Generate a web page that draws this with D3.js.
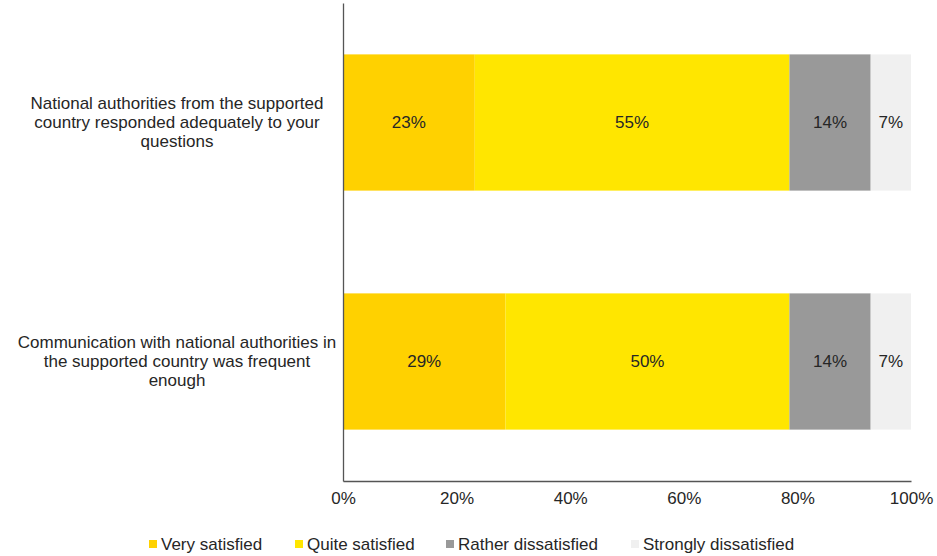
<!DOCTYPE html>
<html><head><meta charset="utf-8">
<script src="https://cdn.jsdelivr.net/npm/d3@7"></script>
<style>body{margin:0;background:#fff;}svg{display:block;font-family:"Liberation Sans",Arial,sans-serif;}</style>
</head><body><svg id="c" width="937" height="556"></svg>
<script>
const categories = [
  ["National authorities from the supported","country responded adequately to your","questions"],
  ["Communication with national authorities in","the supported country was frequent","enough"]
];
const seriesNames = ["Very satisfied","Quite satisfied","Rather dissatisfied","Strongly dissatisfied"];
const verySatisfied = [23.2, 28.6];
const quiteSatisfied = [55.4, 50.0];
const ratherDissatisfied = [14.3, 14.3];
const stronglyDissatisfied = [7.1, 7.1];
const xTicks = [0, 20, 40, 60, 80, 100];
const colors = ["#FFD100", "#FFE600", "#999999", "#F0F0F0"];

const FS = 17;
const svg = d3.select("#c");
const x = d3.scaleLinear().domain([0,100]).range([343, 911]);
const y = d3.scaleBand().domain(d3.range(categories.length)).range([3, 481]).paddingInner(0.43).paddingOuter(0.215);

const series = [verySatisfied, quiteSatisfied, ratherDissatisfied, stronglyDissatisfied];
const rows = categories.map((c,i)=>{
  const r = {i};
  seriesNames.forEach((s,j)=> r[s] = series[j][i]);
  return r;
});
const stack = d3.stack().keys(seriesNames)(rows);

const g = svg.append("g");
stack.forEach((layer, j) => {
  g.selectAll(null).data(layer).enter().append("rect")
    .attr("x", d => x(d[0]))
    .attr("width", d => x(d[1]) - x(d[0]))
    .attr("y", d => y(d.data.i))
    .attr("height", y.bandwidth())
    .attr("fill", colors[j]);
  g.selectAll(null).data(layer).enter().append("text")
    .attr("x", d => (x(d[0]) + x(d[1]))/2)
    .attr("y", d => y(d.data.i) + y.bandwidth()/2)
    .attr("dy", "0.35em")
    .attr("text-anchor", "middle")
    .attr("font-size", FS)
    .attr("fill", "#262626")
    .text(d => Math.round(d[1]-d[0]) + "%");
});

// axes
const xAxis = d3.axisBottom(x).tickValues(xTicks).tickFormat(d => d + "%").tickSize(0).tickPadding(11);
const ax = svg.append("g").attr("transform", "translate(0,481)").call(xAxis);
ax.select(".domain").attr("stroke", "#555").attr("stroke-width", 1.3);
ax.selectAll("text").attr("font-size", FS).attr("fill", "#262626").attr("font-family", '"Liberation Sans",Arial,sans-serif');

const yAxis = d3.axisLeft(y).tickSize(0).tickFormat("");
const ay = svg.append("g").attr("transform", "translate(343,0)").call(yAxis);
ay.select(".domain").attr("stroke", "#555").attr("stroke-width", 1.3);

// category labels
categories.forEach((lines, i) => {
  const cy = y(i) + y.bandwidth()/2;
  const t = svg.append("text").attr("text-anchor", "middle").attr("font-size", FS).attr("fill", "#262626");
  lines.forEach((ln, k) => {
    t.append("tspan").attr("x", 177).attr("y", cy + (k - (lines.length-1)/2) * 19).attr("dy", "0.35em").text(ln);
  });
});

// legend
const legendX = [149, 295, 446, 631];
const lg = svg.append("g");
seriesNames.forEach((s, j) => {
  lg.append("rect").attr("x", legendX[j]).attr("y", 540).attr("width", 8).attr("height", 8).attr("fill", colors[j]);
  lg.append("text").attr("x", legendX[j] + 12).attr("y", 544).attr("dy", "0.35em")
    .attr("font-size", FS).attr("fill", "#262626").text(s);
});
</script></body></html>
